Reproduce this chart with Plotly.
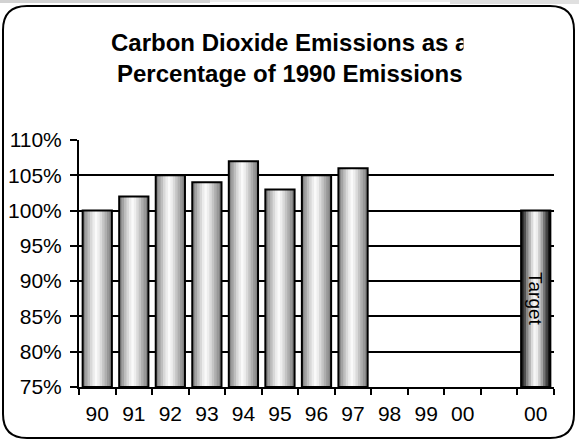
import plotly.graph_objects as go

# ---- data -------------------------------------------------------------
year_labels = ["90", "91", "92", "93", "94", "95", "96", "97", "98", "99", "00"]
emissions_pct = [100, 102, 105, 104, 107, 103, 105, 106, None, None, None]
target_label = "00"
target_pct = 100
y_ticks = [75, 80, 85, 90, 95, 100, 105, 110]
AXIS_FLOOR = 75

# ---- figure geometry (pixels) ------------------------------------------
W, H = 579, 441
L, R, T, B = 79, 25, 140, 54
PW, PH = W - L - R, H - T - B


def px(x):
    return (x - L) / PW


def py(y):
    return (H - B - y) / PH


# category ids: the eleven years, an empty slot, then the target
cat_ids = [f"y{lab}_{i}" for i, lab in enumerate(year_labels)] + ["gap", "target"]
tick_text = year_labels + ["", target_label]
values = emissions_pct + [None, target_pct]
# bars rise from the axis floor, so each bar's length is value - floor
lengths = [None if v is None else v - AXIS_FLOOR for v in values]

# cylinder-like shading, left to right
plain_shades = ["#858585", "#a2a2a2", "#bebebe", "#d8d8d8", "#ececec", "#fafafa",
                "#eeeeee", "#dadada", "#c4c4c4", "#aeaeae", "#989898", "#828282"]
target_shades = ["#1e1e1e", "#505050", "#868686", "#b2b2b2", "#dadada", "#f6f6f6",
                 "#ececec", "#cccccc", "#a4a4a4", "#747474", "#444444", "#1a1a1a"]

BAR_W = 0.8
n = len(plain_shades)
strip_w = BAR_W / n

fig = go.Figure()
for i in range(n):
    colors = [target_shades[i] if c == "target" else plain_shades[i] for c in cat_ids]
    w = strip_w * 1.8 if i < n - 1 else strip_w
    fig.add_trace(go.Bar(
        x=cat_ids, y=lengths, base=AXIS_FLOOR,
        width=w, offset=-BAR_W / 2 + i * strip_w,
        marker=dict(color=colors, line=dict(width=0)),
        hoverinfo="skip", showlegend=False,
    ))

font = "Liberation Sans, Arial, sans-serif"

# outlines and the target label
labels = ["Target" if c == "target" else "" for c in cat_ids]
fig.add_trace(go.Bar(
    x=cat_ids, y=lengths, base=AXIS_FLOOR, width=BAR_W, offset=-BAR_W / 2,
    marker=dict(color="rgba(0,0,0,0)", line=dict(color="black", width=2)),
    text=labels, textposition="inside", insidetextanchor="middle",
    textangle=90, constraintext="none",
    insidetextfont=dict(family=font, size=19, color="black"),
    showlegend=False,
))

fig.update_layout(
    width=W, height=H,
    margin=dict(l=L, r=R, t=T, b=B, autoexpand=False),
    paper_bgcolor="white", plot_bgcolor="white",
    barmode="overlay", bargap=0.2,
    font=dict(family=font, size=21, color="black"),
    showlegend=False,
    xaxis=dict(
        type="category", categoryorder="array", categoryarray=cat_ids,
        tickmode="array", tickvals=cat_ids, ticktext=tick_text,
        tickson="boundaries", ticks="outside", ticklen=6, tickwidth=2,
        tickcolor="black", ticklabelstandoff=7, automargin=False,
        showline=True, linecolor="black", linewidth=2,
        showgrid=False, zeroline=False,
        tickfont=dict(size=21),
    ),
    yaxis=dict(
        range=[75, 110], tickmode="array", tickvals=y_ticks,
        ticktext=[f"{v}%" for v in y_ticks],
        ticks="outside", ticklen=7, tickwidth=2, tickcolor="black",
        ticklabelstandoff=4, automargin=False,
        showline=True, linecolor="black", linewidth=2,
        showgrid=True, gridcolor="black", gridwidth=2,
        zeroline=False, tickfont=dict(size=21),
    ),
)

# title (the title box clips the end of its first line)
title_x = px(290)
fig.add_annotation(text="<b>Carbon Dioxide Emissions as a</b>", x=title_x, y=py(43),
                   xref="paper", yref="paper", yanchor="middle", showarrow=False,
                   font=dict(family=font, size=24, color="black"))
fig.add_annotation(text="<b>Percentage of 1990 Emissions</b>", x=title_x, y=py(74),
                   xref="paper", yref="paper", yanchor="middle", showarrow=False,
                   font=dict(family=font, size=24, color="black"))
fig.add_annotation(text=" ", x=px(463), y=py(42), xanchor="left", yanchor="middle",
                   xref="paper", yref="paper", showarrow=False,
                   width=24, height=26, bgcolor="white", borderpad=0,
                   font=dict(size=10))

# rounded chart-area border
x0, x1, y0, y1, r = 3, 574, 6, 438, 24
pts = [
    f"M {px(x0 + r)},{py(y0)}",
    f"L {px(x1 - r)},{py(y0)}",
    f"Q {px(x1)},{py(y0)} {px(x1)},{py(y0 + r)}",
    f"L {px(x1)},{py(y1 - r)}",
    f"Q {px(x1)},{py(y1)} {px(x1 - r)},{py(y1)}",
    f"L {px(x0 + r)},{py(y1)}",
    f"Q {px(x0)},{py(y1)} {px(x0)},{py(y1 - r)}",
    f"L {px(x0)},{py(y0 + r)}",
    f"Q {px(x0)},{py(y0)} {px(x0 + r)},{py(y0)}",
    "Z",
]
fig.add_shape(type="path", path=" ".join(pts), xref="paper", yref="paper",
              line=dict(color="black", width=2), layer="above")

# thin grey strip along the top edge
for xa, xb, hgt, col in [(0, 210, 3, "#d2d2d2"), (210, 450, 2, "#ececec"), (450, 579, 4, "#e0e0e0")]:
    fig.add_shape(type="rect", x0=px(xa), x1=px(xb), y0=py(hgt), y1=py(0),
                  xref="paper", yref="paper", line=dict(width=0), fillcolor=col,
                  layer="below")

fig.write_html("out.html")
